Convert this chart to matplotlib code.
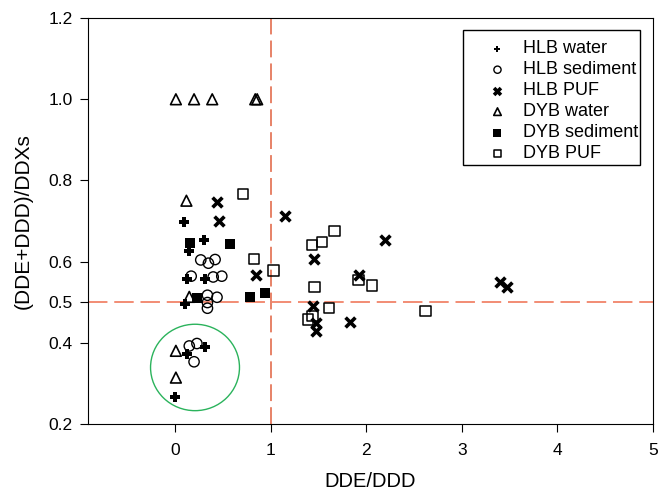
import matplotlib
matplotlib.use('Agg')
import matplotlib.pyplot as plt
from matplotlib.patches import Ellipse, Rectangle

plt.rcParams['font.family'] = ['Liberation Sans', 'DejaVu Sans']

# DDE/DDD vs (DDE+DDD)/DDXs
hlb_water_x = [0.10, 0.15, 0.30, 0.13, 0.31, 0.11, 0.13, 0.31, 0.00]
hlb_water_y = [0.697, 0.626, 0.653, 0.557, 0.557, 0.496, 0.372, 0.389, 0.265]

hlb_sed_x = [0.27, 0.35, 0.42, 0.17, 0.40, 0.49, 0.34, 0.44, 0.34, 0.34, 0.15, 0.23, 0.20]
hlb_sed_y = [0.604, 0.596, 0.605, 0.564, 0.562, 0.564, 0.517, 0.512, 0.499, 0.485, 0.392, 0.398, 0.353]

hlb_puf_x = [0.44, 0.46, 1.15, 0.85, 2.20, 1.45, 1.93, 1.44, 1.47, 1.48, 1.83, 3.40, 3.47]
hlb_puf_y = [0.747, 0.700, 0.712, 0.568, 0.652, 0.606, 0.568, 0.490, 0.449, 0.429, 0.451, 0.550, 0.537]

dyb_water_x = [0.01, 0.20, 0.39, 0.84, 0.86, 0.12, 0.15, 0.01, 0.01]
dyb_water_y = [1.0, 1.0, 1.0, 1.0, 1.0, 0.750, 0.513, 0.380, 0.314]

dyb_sed_x = [0.16, 0.58, 0.94, 0.78, 0.23]
dyb_sed_y = [0.645, 0.644, 0.523, 0.512, 0.510]

dyb_puf_x = [0.71, 0.83, 1.03, 1.43, 1.54, 1.67, 1.92, 2.06, 1.46, 1.61, 1.44, 1.39, 2.62]
dyb_puf_y = [0.766, 0.606, 0.578, 0.641, 0.649, 0.676, 0.554, 0.541, 0.537, 0.486, 0.465, 0.457, 0.478]

fig = plt.figure(figsize=(6.61, 4.9), dpi=100)
ax = fig.add_axes([0.133, 0.135, 0.855, 0.828])

ax.axvline(1, color='#e0603e', lw=1.1, dashes=(11, 4), zorder=1)
ax.axhline(0.5, color='#f28c74', lw=1.4, dashes=(10, 3.5), zorder=1)

ax.scatter(hlb_water_x, hlb_water_y, marker='P', s=45, c='black', linewidths=0, label='HLB water', zorder=3)
ax.scatter(hlb_sed_x, hlb_sed_y, marker='o', s=55, facecolors='none', edgecolors='black', linewidths=1.0, label='HLB sediment', zorder=3)
ax.scatter(hlb_puf_x, hlb_puf_y, marker='x', s=50, c='black', linewidths=2.6, label='HLB PUF', zorder=3)
ax.scatter(dyb_water_x, dyb_water_y, marker='^', s=60, facecolors='none', edgecolors='black', linewidths=1.2, label='DYB water', zorder=3)
ax.scatter(dyb_sed_x, dyb_sed_y, marker='s', s=55, c='black', linewidths=0, label='DYB sediment', zorder=3)
ax.scatter(dyb_puf_x, dyb_puf_y, marker='s', s=55, facecolors='none', edgecolors='black', linewidths=1.1, label='DYB PUF', zorder=3)

# green circle around the low cluster
ax.add_patch(Ellipse((0.21, 0.339), 0.93, 0.213, fill=False, edgecolor='#2bb35c', lw=1.0, zorder=2))

ax.set_xlim(-0.91, 5)
ax.set_ylim(0.2, 1.2)
ax.set_xticks([0, 1, 2, 3, 4, 5])
ax.set_yticks([0.2, 0.4, 0.5, 0.6, 0.8, 1.0, 1.2])
ax.set_yticklabels(['0.2', '0.4', '0.5', '0.6', '0.8', '1.0', '1.2'])
ax.tick_params(direction='out', length=6, pad=5, labelsize=12.5, top=False, right=False)
ax.tick_params(axis='x', pad=8)
ax.set_xlabel('DDE/DDD', fontsize=14.5, labelpad=10)
ax.set_ylabel('(DDE+DDD)/DDXs', fontsize=15)
ax.yaxis.set_label_coords(-0.098, 0.5)

# legend box drawn separately so the text can run up to the frame
ax.add_patch(Rectangle((0.664, 0.638), 0.313, 0.332, transform=ax.transAxes,
                       fill=True, facecolor='white', edgecolor='black', lw=1.0, zorder=4))
leg = ax.legend(loc='upper left', bbox_to_anchor=(0.664, 0.985), fontsize=13,
                frameon=False, markerscale=0.7, borderpad=0.9, borderaxespad=0,
                handlelength=2.0, handletextpad=0.39, labelspacing=0.22)
leg.set_zorder(5)

fig.savefig('out.png', dpi=100)
